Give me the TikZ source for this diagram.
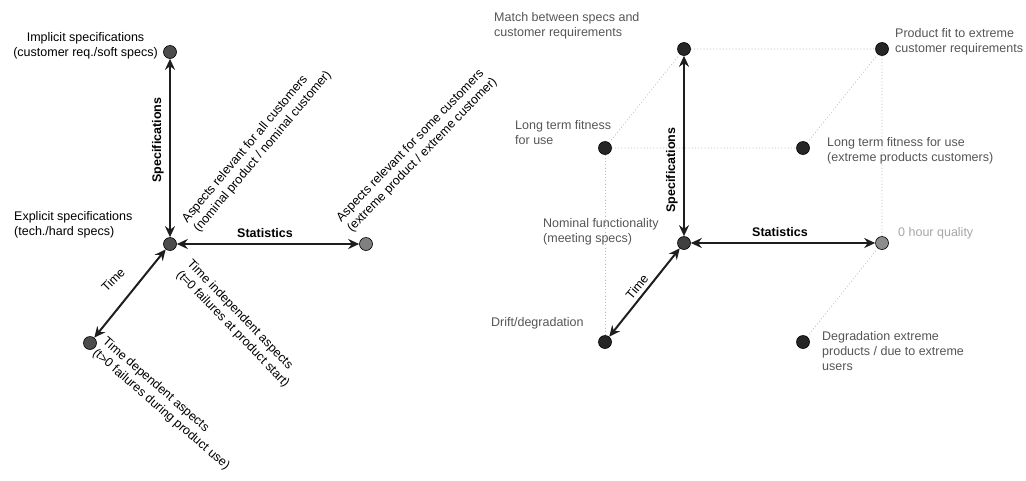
\documentclass[tikz,border=0pt]{standalone}
\usepackage{fontspec}
\setmainfont{Liberation Sans}
\usepackage{tikz}
\usetikzlibrary{arrows.meta,positioning}
\definecolor{ink}{RGB}{30,30,30}
\definecolor{soft}{RGB}{85,85,85}

\tikzset{
  dot/.style={circle,draw=black,line width=0.6pt,fill=#1,minimum size=13pt,inner sep=0pt},
  axis/.style={line width=2pt,ink,{Stealth[length=11pt,width=10pt]}-{Stealth[length=11pt,width=10pt]}},
  edge/.style={gray!55,line width=0.6pt,dash pattern=on 1pt off 2.2pt},
  lbl/.style={font=\fontsize{12.5}{15}\selectfont,inner sep=0pt,align=left},
  axname/.style={font=\fontsize{12.5}{15}\selectfont\bfseries,inner sep=0pt}
}

\begin{document}
\begin{tikzpicture}[x=1pt,y=-1pt]
  \useasboundingbox (0,0) rectangle (1026,480);
  % left: the three axes
  \begin{scope}[shift={(170,244)}]
    \node[dot=black!70] (O) at (0,0) {};
    \node[dot=black!70] (T) at (0,-192) {};
    \node[dot=black!50] (S) at (196,0) {};
    \node[dot=black!70] (D) at (-80,99) {};
    \foreach \p in {T,S,D} \draw[axis] (O) -- (\p);
    \node[axname,rotate=90] (spec) at (-12,-104) {Specifications};
    \node[axname] (stat) at (95,-11) {Statistics};
    \node[lbl,rotate=45] (time) at (-57,36) {Time};
    \node[lbl,anchor=east,align=center] (impl) at (-12,-198) {Implicit specifications\\(customer req./soft specs)};
    \node[lbl,anchor=west] (expl) at (-156,-19) {Explicit specifications\\(tech./hard specs)};
    \node[lbl,rotate=50] (allc) at (87,-97) {Aspects relevant for all customers\\(nominal product / nominal customer)};
    \node[lbl,rotate=46] (somec) at (247,-94) {Aspects relevant for some customers\\(extreme product / extreme customer)};
    \node[lbl,rotate=-46] (tind) at (68,80) {Time independent aspects\\(t=0 failures at product start)};
    \node[lbl,rotate=-41] (tdep) at (-4,160) {Time dependent aspects\\(t>0 failures during product use)};
  \end{scope}
  % right: the cube
  \begin{scope}[shift={(684,243)}]
    \node[dot=black!75] (O2) at (0,0) {};
    \node[dot=black!85] (T2) at (0,-194) {};
    \node[dot=black!45] (S2) at (198,0) {};
    \node[dot=black!85] (D2) at (-79,99) {};
    \node[dot=black!85] (TS) at (198,-194) {};
    \node[dot=black!85] (LT) at (-79,-95) {};
    \node[dot=black!85] (LTE) at (119,-95) {};
    \node[dot=black!85] (DE) at (119,99) {};
    \draw[edge] (T2) -- (TS) -- (S2) -- (DE);
    \draw[edge] (T2) -- (LT) -- (LTE) -- (TS);
    \draw[edge] (LT) -- (D2);
    \foreach \p in {T2,S2,D2} \draw[axis] (O2) -- (\p);
    \node[axname,rotate=90] (spec2) at (-12,-73) {Specifications};
    \node[axname] (stat2) at (96,-11) {Statistics};
    \node[lbl,rotate=50] (time2) at (-47,44) {Time};
    \node[lbl,anchor=west,soft] (match) at (-190,-217) {Match between specs and\\customer requirements};
    \node[lbl,anchor=west,soft] (fit) at (211,-201) {Product fit to extreme\\customer requirements};
    \node[lbl,anchor=west,soft] (ltf) at (-169,-110) {Long term fitness\\for use};
    \node[lbl,anchor=west,soft] (ltfe) at (143,-92) {Long term fitness for use\\(extreme products customers)};
    \node[lbl,anchor=west,soft] (nom) at (-141,-11) {Nominal functionality\\(meeting specs)};
    \node[lbl,anchor=west,soft] (drift) at (-193,80) {Drift/degradation};
    \node[lbl,anchor=west,gray!70] (zero) at (214,-10) {0 hour quality};
    \node[lbl,anchor=west,soft] (degr) at (138,108) {Degradation extreme\\products / due to extreme\\users};
  \end{scope}
\end{tikzpicture}
\end{document}
